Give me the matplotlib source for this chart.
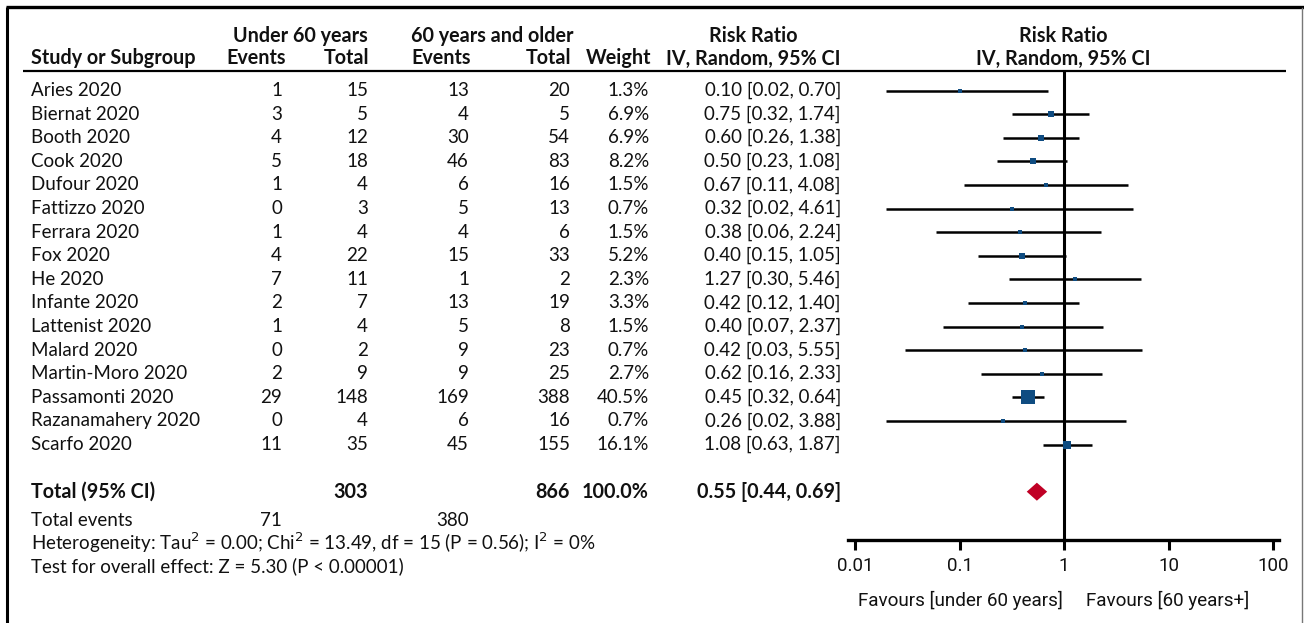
import numpy as np
import matplotlib
matplotlib.use("Agg")
import matplotlib.pyplot as plt
from matplotlib.patches import Polygon

# ---- data -------------------------------------------------------------
studies = ["Aries 2020", "Biernat 2020", "Booth 2020", "Cook 2020", "Dufour 2020",
           "Fattizzo 2020", "Ferrara 2020", "Fox 2020", "He 2020", "Infante 2020",
           "Lattenist 2020", "Malard 2020", "Martin-Moro 2020", "Passamonti 2020",
           "Razanamahery 2020", "Scarfo 2020"]
events_young = [1, 3, 4, 5, 1, 0, 1, 4, 7, 2, 1, 0, 2, 29, 0, 11]
total_young = [15, 5, 12, 18, 4, 3, 4, 22, 11, 7, 4, 2, 9, 148, 4, 35]
events_old = [13, 4, 30, 46, 6, 5, 4, 15, 1, 13, 5, 9, 9, 169, 6, 45]
total_old = [20, 5, 54, 83, 16, 13, 6, 33, 2, 19, 8, 23, 25, 388, 16, 155]
weight = [1.3, 6.9, 6.9, 8.2, 1.5, 0.7, 1.5, 5.2, 2.3, 3.3, 1.5, 0.7, 2.7, 40.5, 0.7, 16.1]
rr = [0.10, 0.75, 0.60, 0.50, 0.67, 0.32, 0.38, 0.40, 1.27, 0.42, 0.40, 0.42, 0.62, 0.45, 0.26, 1.08]
ci_low = [0.02, 0.32, 0.26, 0.23, 0.11, 0.02, 0.06, 0.15, 0.30, 0.12, 0.07, 0.03, 0.16, 0.32, 0.02, 0.63]
ci_high = [0.70, 1.74, 1.38, 1.08, 4.08, 4.61, 2.24, 1.05, 5.46, 1.40, 2.37, 5.55, 2.33, 0.64, 3.88, 1.87]

pooled_rr, pooled_low, pooled_high = 0.55, 0.44, 0.69
total_n_young, total_n_old = 303, 866
total_ev_young, total_ev_old = 71, 380
axis_ticks = [0.01, 0.1, 1, 10, 100]
axis_ticklabels = ["0.01", "0.1", "1", "10", "100"]

# ---- figure -----------------------------------------------------------
W, H = 1304, 623
fig = plt.figure(figsize=(W / 100, H / 100), dpi=100)
fig.patch.set_facecolor("white")

FONT = "Lato"
FS = 13.5
FS_BOLD = 14.2
AX_FONT = "Roboto"

# overlay axes in pixel units for the table text and frame
bg = fig.add_axes([0, 0, 1, 1])
bg.set_xlim(0, W)
bg.set_ylim(H, 0)
bg.axis("off")

# frame
bg.plot([7, 7], [7, H + 5], color="black", lw=2.2, solid_capstyle="butt")
bg.plot([6, W], [7, 7], color="black", lw=2.4, solid_capstyle="butt")
bg.plot([W - 2, W - 2], [8, H], color="#777777", lw=1.0)
# header rule
bg.plot([23, 1286], [70.5, 70.5], color="black", lw=1.6, solid_capstyle="butt")

def txt(x, y, s, ha="right", bold=False, size=None, family=FONT):
    if size is None:
        size = FS_BOLD if bold else FS
    bg.text(x, y, s, ha=ha, va="center", fontsize=size, family=family,
            fontweight="bold" if bold else "normal", color="#111111")

# headers
txt(300, 36, "Under 60 years", ha="center", bold=True)
txt(492, 36, "60 years and older", ha="center", bold=True)
txt(753, 36, "Risk Ratio", ha="center", bold=True)
txt(1063, 36, "Risk Ratio", ha="center", bold=True)
hy = 58.5
txt(31, hy, "Study or Subgroup", ha="left", bold=True)
txt(286, hy, "Events", bold=True)
txt(369, hy, "Total", bold=True)
txt(471, hy, "Events", bold=True)
txt(571, hy, "Total", bold=True)
txt(651, hy, "Weight", bold=True)
txt(841, hy, "IV, Random, 95% CI", bold=True)
txt(1063, hy, "IV, Random, 95% CI", ha="center", bold=True)

# study rows
row0, dy = 90.5, 23.6
for i, name in enumerate(studies):
    y = row0 + i * dy
    txt(31, y, name, ha="left")
    txt(282, y, str(events_young[i]))
    txt(368, y, str(total_young[i]))
    txt(469, y, str(events_old[i]))
    txt(570, y, str(total_old[i]))
    txt(649, y, f"{weight[i]:.1f}%")
    txt(841, y, f"{rr[i]:.2f} [{ci_low[i]:.2f}, {ci_high[i]:.2f}]")

total_row = 17
yt = row0 + total_row * dy
txt(31, yt, "Total (95% CI)", ha="left", bold=True)
txt(368, yt, str(total_n_young), bold=True)
txt(570, yt, str(total_n_old), bold=True)
txt(649, yt, f"{sum(weight):.1f}%", bold=True)
txt(841, yt, f"{pooled_rr:.2f} [{pooled_low:.2f}, {pooled_high:.2f}]", bold=True)

txt(31, 520, "Total events", ha="left")
txt(282, 520, str(total_ev_young))
txt(469, 520, str(total_ev_old))
txt(31, 543, r"Heterogeneity: Tau$^2$ = 0.00; Chi$^2$ = 13.49, df = 15 (P = 0.56); I$^2$ = 0%",
    ha="left")
txt(31, 566, "Test for overall effect: Z = 5.30 (P < 0.00001)", ha="left")

# ---- forest panel -----------------------------------------------------
x_left, x_right = 848, 1279
y_top, y_bot = 70.5, 540
ax = fig.add_axes([x_left / W, 1 - y_bot / H, (x_right - x_left) / W, (y_bot - y_top) / H])
ax.set_xscale("log")
dec = 104.5  # pixels per decade
ax.set_xlim(10 ** (-2 - 7 / dec), 10 ** (2 + 6 / dec))
ax.set_ylim((y_bot - row0) / dy, (y_top - row0) / dy)
ax.patch.set_alpha(0)
for side in ("top", "left", "right"):
    ax.spines[side].set_visible(False)
ax.spines["bottom"].set_linewidth(2.4)
ax.set_yticks([])
ax.set_xticks(axis_ticks)
ax.set_xticklabels(axis_ticklabels, family=AX_FONT, fontsize=13.5, color="#111111")
ax.minorticks_off()
ax.tick_params(axis="x", length=7, width=2.2, direction="out", pad=5)

ax.axvline(1, color="black", lw=2.2, zorder=3)

ypos = np.arange(len(studies))
ax.hlines(ypos, ci_low, ci_high, color="black", lw=1.8, zorder=2)
side_px = [3.8 + 0.26 * w for w in weight]
for i in range(len(studies)):
    ax.plot(rr[i], ypos[i], marker="s", linestyle="none",
            markersize=side_px[i] * 0.72, color="#0f4c81", markeredgewidth=0, zorder=4)

# pooled diamond
half_h = 9 / dy
diamond = Polygon([[pooled_low, total_row], [pooled_rr, total_row - half_h],
                   [pooled_high, total_row], [pooled_rr, total_row + half_h]],
                  closed=True, facecolor="#c00025", edgecolor="none", zorder=4)
ax.add_patch(diamond)

txt(960, 600, "Favours [under 60 years]", ha="center", family=AX_FONT, size=13.6)
txt(1168, 600, "Favours [60 years+]", ha="center", family=AX_FONT, size=13.6)

fig.savefig("out.png", dpi=100, facecolor="white")
